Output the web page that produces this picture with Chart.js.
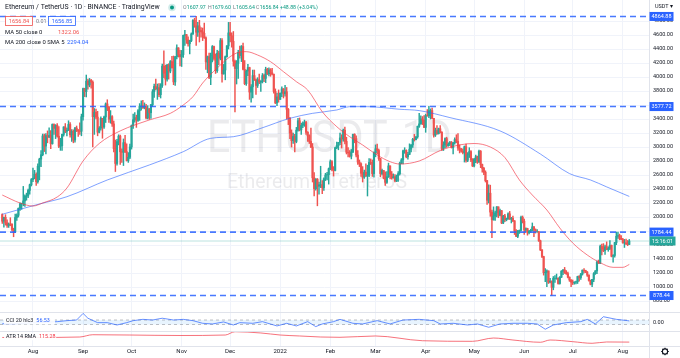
<!DOCTYPE html>
<html><head><meta charset="utf-8">
<script src="https://cdn.jsdelivr.net/npm/chart.js@4.4.1/dist/chart.umd.min.js"></script>
<style>html,body{margin:0;padding:0;background:#fff;overflow:hidden}canvas{display:block}</style>
</head><body>
<canvas id="c" width="680" height="358"></canvas>
<script>
// ---------- DATA (daily candles from 2021-07-13, open = previous close) ----------
const startDate = '2021-07-13';
const firstOpen = 2035;
const closes = [
1940,1995,1916,1880,1898,1895,1820,1786,1993,2025,2124,2189,2192,2230,2300,2300,2380,2460,2535,
2555,2610,2505,2725,2827,2890,3158,3013,3163,3142,3165,3048,3322,3267,3310,3154,3011,3017,3180,3286,3225,3240,3322,3174,3224,3100,3270,3244,3226,3225,3433,
3834,3790,3940,3887,3952,3926,3433,3497,3427,3211,3270,3410,3286,3429,3615,3571,3398,3433,3330,2977,2765,3077,3155,2932,2926,3062,2934,2807,2853,3001,
3307,3390,3418,3380,3518,3580,3587,3560,3575,3415,3545,3490,3605,3790,3865,3830,3847,3748,3878,4155,4055,3970,4170,4085,4220,4130,3930,4290,4415,4320,4290,
4320,4595,4605,4530,4475,4520,4615,4810,4730,4640,4730,4665,4645,4625,4560,4215,4290,3995,4310,4435,4265,4090,4340,4270,4520,4045,4100,4290,4445,4630,
4590,4510,4225,4120,4195,4350,4305,4435,4110,3905,4085,4135,3785,3860,4020,3960,3880,3960,3925,3940,4020,3980,4110,4045,4100,4060,4040,3795,3630,3715,3680,
3770,3830,3760,3790,3540,3410,3200,3090,3150,3080,3240,3375,3245,3310,3330,3350,3210,3160,3080,3000,2560,2405,2540,2440,2460,2460,2420,2545,2600,2605,2690,
2790,2680,2665,2990,3020,3065,3130,3115,3240,3080,2925,2915,2870,2930,3180,3120,2885,2785,2760,2625,2570,2640,2585,2595,2780,2775,2620,2920,
2975,2950,2835,2620,2665,2555,2495,2575,2730,2610,2560,2575,2515,2590,2620,2770,2815,2945,2950,2860,2895,2970,3030,3110,3105,3145,3295,3330,3400,3385,3280,
3450,3445,3520,3520,3410,3170,3235,3190,3260,3210,2980,3030,3120,3020,3040,3065,2990,3060,3105,3080,2985,2965,2940,2920,3005,2810,2890,2935,2815,2730,
2825,2860,2785,2940,2750,2695,2640,2520,2240,2340,2070,1960,2015,2060,2145,2025,2090,1915,2015,1960,1975,2045,1970,1980,1945,1800,1725,1795,1810,1995,1940,
1815,1835,1775,1800,1805,1860,1815,1790,1790,1660,1530,1435,1205,1210,1230,1070,1085,995,1125,1125,1125,1050,1140,1225,1245,1200,1190,1140,1100,1070,
1060,1070,1075,1150,1135,1185,1240,1235,1215,1170,1095,1040,1110,1190,1230,1355,1340,1580,1545,1520,1575,1535,1550,1595,1440,1450,1635,1725,1735,1695,1680,
1630,1630,1620,1607.97,1656.84];
const highs = [
2046,2000,2033,1960,1915,1990,1907,1840,2043,2044,2130,2201,2198,2437,2318,2341,2400,2471,2550,
2700,2666,2630,2760,2840,2950,3185,3185,3190,3230,3275,3235,3330,3330,3320,3335,3290,3125,3185,3290,3335,3270,3375,3350,3250,3245,3280,3300,3250,3345,3470,
3840,3840,4028,3970,3980,3965,3945,3550,3540,3510,3290,3430,3390,3440,3630,3675,3580,3520,3450,3370,3100,3110,3175,3170,2975,3115,3165,3045,2920,3040,
3315,3470,3490,3455,3535,3620,3660,3665,3630,3610,3590,3550,3610,3820,3900,3970,3900,3905,3905,4185,4375,4170,4180,4190,4235,4295,4300,4295,4460,4420,4380,
4380,4600,4665,4610,4575,4525,4630,4820,4838,4865,4780,4810,4705,4700,4770,4575,4300,4340,4340,4450,4440,4330,4380,4370,4550,4550,4180,4300,4450,4780,
4780,4630,4650,4240,4235,4380,4440,4450,4485,4235,4100,4180,4140,3890,4100,4100,3975,3990,4040,3950,4050,4040,4140,4125,4130,4120,4125,4040,3830,3770,3815,
3770,3860,3835,3880,3850,3550,3425,3245,3200,3180,3280,3410,3415,3340,3360,3385,3365,3220,3175,3270,3050,2635,2550,2550,2500,2725,2520,2560,2625,2640,2700,
2815,2805,2720,3000,3070,3065,3200,3175,3255,3285,3140,2990,2950,2965,3185,3190,3160,2950,2815,2775,2720,2670,2760,2740,2835,2830,2815,2930,
3030,3040,2970,2840,2685,2665,2645,2650,2770,2730,2650,2615,2605,2600,2650,2785,2835,2955,2990,2960,2925,3045,3035,3125,3180,3150,3300,3480,3445,3435,3450,
3470,3535,3580,3545,3555,3410,3270,3305,3270,3305,3220,3075,3130,3140,3060,3080,3080,3065,3130,3175,3190,3030,2980,2975,3015,3040,2920,2990,2950,2835,
2840,2885,2870,2955,2950,2755,2710,2660,2525,2460,2455,2100,2145,2085,2150,2145,2115,2095,2025,2040,1985,2060,2080,1995,2015,1950,1820,1810,1815,2015,2015,
1970,1845,1840,1810,1825,1915,1865,1830,1820,1795,1670,1535,1440,1265,1245,1230,1125,1085,1150,1165,1185,1130,1150,1235,1250,1280,1235,1215,1145,1105,
1100,1075,1085,1155,1165,1195,1245,1265,1240,1220,1175,1100,1110,1205,1235,1375,1385,1600,1615,1620,1600,1645,1575,1665,1600,1465,1640,1785,1785,1755,1735,
1695,1680,1685,1665,1679.60];
const lows = [
1908,1856,1884,1852,1851,1875,1800,1718,1776,1951,1999,2095,2110,2160,2152,2240,2275,2325,2443,
2505,2545,2450,2482,2530,2720,2875,2935,2900,3060,3133,2975,3040,3180,3120,3140,2990,2952,2950,3155,3205,3160,3235,3140,3080,3060,3070,3220,3150,3180,3160,
3385,3720,3715,3825,3860,3840,3000,3180,3400,3160,3200,3240,3125,3265,3350,3520,3350,3340,3295,2930,2650,2740,3030,2750,2780,2735,2920,2800,2780,2835,
2970,3265,3355,3280,3365,3380,3525,3550,3545,3400,3400,3395,3410,3580,3710,3815,3680,3720,3700,3850,3990,3885,3940,3970,4060,4130,3890,3880,4260,4285,4160,
4150,4280,4450,4480,4440,4330,4505,4610,4710,4450,4580,4500,4570,4520,4550,4110,4060,3975,3890,4215,4240,4050,4065,4175,4245,3925,4040,3960,4285,4400,
4500,4425,4155,3500,3900,3980,4270,4220,4100,3890,3880,4020,3680,3640,3700,3950,3750,3850,3905,3795,3915,3935,3920,4035,4015,4010,4030,3770,3620,3590,3640,
3680,3720,3700,3725,3400,3320,3120,3000,3050,2930,3060,3225,3230,3180,3275,3295,3180,3080,3050,2990,2500,2300,2385,2160,2325,2420,2335,2380,2520,2530,2470,
2675,2660,2585,2660,2975,2960,3035,2985,3085,3045,2900,2860,2855,2830,2920,3060,2860,2750,2720,2580,2500,2550,2580,2300,2575,2750,2580,2570,
2860,2900,2810,2575,2600,2545,2450,2480,2565,2545,2540,2555,2500,2505,2510,2600,2760,2760,2910,2845,2825,2890,2930,2995,3085,3100,3125,3280,3325,3320,3275,
3210,3440,3420,3400,3405,3140,3150,3180,3185,3200,2950,2950,2990,2995,3010,3020,2985,2900,3040,3060,2950,2915,2925,2900,2785,2785,2790,2850,2790,2720,
2715,2775,2765,2780,2705,2640,2605,2500,2180,2200,2010,1705,1955,1950,2000,1990,2015,1905,1905,1935,1945,1965,1965,1915,1935,1750,1720,1705,1765,1800,1915,
1750,1790,1740,1760,1780,1800,1720,1770,1780,1650,1520,1420,1170,1075,1005,1050,1060,880,960,1065,1110,1040,1040,1135,1175,1195,1180,1130,1080,1005,
1035,1040,1045,1050,1085,1110,1170,1200,1205,1150,1085,1030,1005,1075,1180,1190,1335,1335,1460,1505,1465,1535,1510,1535,1430,1356,1425,1605,1695,1675,1675,
1625,1565,1605,1590,1605.64];

// moving averages / indicators (day index from startDate)
const ma50Days   = [0,11,19,25,34,40,50,60,73,91,104,112,118,124,133,141,147,151,158,166,174,182,189,198,207,215,223,232,240,246,258,271,283,292,302,311,320,328,337,345,353,362,370,378,384,388];
const ma50Values = [2314,2200,2157,2200,2286,2414,2800,3050,3230,3386,3481,3600,3719,3914,4128,4290,4357,4362,4314,4219,4076,3933,3814,3504,3290,3147,3029,2886,2790,2757,2800,2950,3030,3050,3000,2850,2529,2314,2100,1843,1629,1457,1347,1281,1281,1322];
const ma200Days   = [0,11,23,40,65,91,112,129,143,160,178,192,207,215,226,246,258,277,308,333,351,364,374,388];
const ma200Values = [2039,2110,2186,2290,2529,2743,2933,3124,3147,3267,3410,3481,3529,3576,3576,3539,3520,3420,3230,2900,2620,2529,2430,2294];
const cciDays   = [0,7,34,40,46,50,53,59,65,71,77,81,87,93,99,106,112,118,124,130,137,143,147,155,161,170,176,182,189,194,198,205,209,217,223,232,240,248,258,267,271,279,288,294,301,308,316,325,331,336,341,349,358,362,367,372,380,387,388];
const cciValues = [-70,-70,25,70,100,400,180,-20,-20,-127,-20,70,130,100,180,100,130,70,-50,-80,10,-127,-20,-50,25,-170,-50,-170,25,-200,-80,25,130,-50,-80,70,-80,100,130,70,-80,-50,-127,-80,-230,-80,-50,-50,-80,-320,-127,-20,25,130,-80,250,130,70,57];
const atrDays   = [0,19,48,56,79,110,138,144,160,172,184,197,209,231,260,291,304,316,333,339,353,365,374,388];
const atrValues = [192,192,200,238,233,225,233,288,267,233,217,200,195,217,138,128,183,150,112,150,122,95,117,115];

// legend / label values shown in the picture
const prevClose = 1607.96;
const bidAsk = [1656.84, 1656.85];
const spread = '0.01';
const ma50Last = 1322.06, ma200Last = 2294.04, cciLast = 56.53, atrLast = 115.28;
const countdown = '15:16:01';

const levels = [4864.88, 3577.72, 1784.44, 878.44];
const lastPrice = 1656.84;
const cciBands = [100, -100];
const monthDays   = [19,50,80,111,141,172,203,231,262,292,323,353,384];
const monthLabels = ['Aug','Sep','Oct','Nov','Dec','2022','Feb','Mar','Apr','May','Jun','Jul','Aug'];
const priceTicks  = [800,1000,1200,1400,1600,1800,2000,2200,2400,2600,2800,3000,3200,3400,3600,3800,4000,4200,4400,4600,4800];

// ---------- build ----------
const X_MIN = -1.4, X_MAX = 400.2;
const UP = '#26a69a', DOWN = '#ef5350';
const opens = closes.map((c, i) => i === 0 ? firstOpen : closes[i - 1]);
const candleColors = closes.map((c, i) => c >= opens[i] ? UP : DOWN);
const wickData = closes.map((c, i) => ({x: i, y: [Math.min(lows[i], opens[i], c), Math.max(highs[i], opens[i], c)]}));
const bodyData = closes.map((c, i) => ({x: i, y: [opens[i], c]}));
const pts = (days, vals) => days.map((d, i) => ({x: d, y: vals[i]}));
const hline = v => [{x: X_MIN, y: v}, {x: X_MAX, y: v}];

Chart.defaults.font.family = 'Roboto, "Noto Sans", sans-serif';

const datasets = [];
levels.forEach(l => datasets.push({type: 'line', data: hline(l), borderColor: 'rgba(41,98,255,0.85)', borderWidth: 1.6, borderDash: [6, 4], pointRadius: 0, yAxisID: 'y', order: 0}));
datasets.push({type: 'line', data: pts(ma50Days, ma50Values), borderColor: 'rgba(242,54,69,0.65)', borderWidth: 1, pointRadius: 0, cubicInterpolationMode: 'monotone', yAxisID: 'y', order: 1});
datasets.push({type: 'line', data: pts(ma200Days, ma200Values), borderColor: 'rgba(41,98,255,0.6)', borderWidth: 1, pointRadius: 0, cubicInterpolationMode: 'monotone', yAxisID: 'y', order: 1});
datasets.push({type: 'bar', data: bodyData, backgroundColor: candleColors, barThickness: 1.5, grouped: false, borderWidth: 0, yAxisID: 'y', order: 2});
datasets.push({type: 'bar', data: wickData, backgroundColor: candleColors, barThickness: 0.8, grouped: false, borderWidth: 0, yAxisID: 'y', order: 3});
datasets.push({type: 'line', data: hline(lastPrice), borderColor: 'rgba(38,166,154,0.3)', borderWidth: 1, pointRadius: 0, yAxisID: 'y', order: 5});
const bandIdx = datasets.length;
datasets.push({type: 'line', data: hline(cciBands[0]), borderColor: 'rgba(120,123,134,0.6)', borderWidth: 0.8, borderDash: [3, 3], pointRadius: 0, yAxisID: 'yCci', order: 6});
datasets.push({type: 'line', data: hline(cciBands[1]), borderColor: 'rgba(120,123,134,0.6)', borderWidth: 0.8, borderDash: [3, 3], pointRadius: 0, yAxisID: 'yCci', fill: bandIdx, backgroundColor: 'rgba(33,150,243,0.10)', order: 6});
datasets.push({type: 'line', data: pts(cciDays, cciValues), borderColor: 'rgba(41,98,255,0.7)', borderWidth: 1, pointRadius: 0, yAxisID: 'yCci', order: 1});
datasets.push({type: 'line', data: pts(atrDays, atrValues), borderColor: 'rgba(242,54,69,0.7)', borderWidth: 1, pointRadius: 0, cubicInterpolationMode: 'monotone', yAxisID: 'yAtr', order: 1});

function txt(ctx, s, x, y, color, size, align, weight) {
  ctx.font = (weight || 'normal') + ' ' + size + 'px Roboto, "Noto Sans", sans-serif';
  ctx.fillStyle = color; ctx.textAlign = align || 'left'; ctx.textBaseline = 'middle';
  ctx.fillText(s, x, y);
  return ctx.measureText(s).width;
}

const overlay = {
  id: 'overlay',
  beforeDraw(chart) {
    const ctx = chart.ctx; ctx.save(); ctx.fillStyle = '#fff'; ctx.fillRect(0, 0, chart.width, chart.height); ctx.restore();
  },
  beforeDatasetsDraw(chart) {
    const ctx = chart.ctx; ctx.save();
    ctx.fillStyle = 'rgba(120,123,134,0.15)';
    ctx.textAlign = 'left'; ctx.textBaseline = 'alphabetic';
    ctx.font = '44px Roboto, sans-serif';
    let s = 'ETHUSDT, 1D', w = ctx.measureText(s).width;
    ctx.save(); ctx.translate(207, 152); ctx.scale(245 / w, 1); ctx.fillText(s, 0, 0); ctx.restore();
    ctx.font = '21px Roboto, sans-serif';
    s = 'Ethereum / TetherUS'; w = ctx.measureText(s).width;
    ctx.save(); ctx.translate(227, 188); ctx.scale(180 / w, 1); ctx.fillText(s, 0, 0); ctx.restore();
    ctx.restore();
  },
  afterDraw(chart) {
    const ctx = chart.ctx, ys = chart.scales.y, yc = chart.scales.yCci, ya = chart.scales.yAtr, xa = chart.scales.x;
    const R = chart.chartArea.right;
    const n = closes.length - 1;
    ctx.save();
    // separators
    ctx.strokeStyle = '#e0e3eb'; ctx.lineWidth = 1;
    ctx.beginPath();
    ctx.moveTo(0, Math.round(yc.top) + 0.5); ctx.lineTo(680, Math.round(yc.top) + 0.5);
    ctx.moveTo(0, Math.round(ya.top) + 0.5); ctx.lineTo(680, Math.round(ya.top) + 0.5);
    ctx.moveTo(0, Math.round(xa.top) + 0.5); ctx.lineTo(680, Math.round(xa.top) + 0.5);
    ctx.moveTo(Math.round(R) + 0.5, 0); ctx.lineTo(Math.round(R) + 0.5, 358);
    ctx.stroke();
    // header row 1
    txt(ctx, 'Ethereum / TetherUS · 1D · BINANCE · TradingView', 5, 7.5, '#131722', 6.9);
    ctx.fillStyle = 'rgba(38,166,154,0.22)'; ctx.beginPath(); ctx.arc(172, 7.5, 3.8, 0, Math.PI * 2); ctx.fill();
    ctx.fillStyle = '#089981'; ctx.beginPath(); ctx.arc(172, 7.5, 2, 0, Math.PI * 2); ctx.fill();
    const ohlc = [['O', 183, opens[n]], ['H', 208, highs[n]], ['L', 233, lows[n]], ['C', 256, closes[n]]];
    ohlc.forEach(p => {
      const w = txt(ctx, p[0], p[1], 7.5, '#787b86', 5.2);
      txt(ctx, p[2].toFixed(2), p[1] + w + 0.3, 7.5, '#089981', 5.2);
    });
    const chg = closes[n] - prevClose;
    txt(ctx, '+' + chg.toFixed(2) + ' (+' + (chg / prevClose * 100).toFixed(2) + '%)', 280, 7.5, '#089981', 5.2);
    // row 2 boxes
    ctx.lineWidth = 0.8;
    ctx.fillStyle = '#fff'; ctx.fillRect(5.5, 16.5, 27, 9); ctx.strokeStyle = '#ef5350'; ctx.strokeRect(5.5, 16.5, 27, 9);
    txt(ctx, bidAsk[0].toFixed(2), 19, 21.2, '#ef5350', 5.6, 'center');
    txt(ctx, spread, 36, 21.2, '#787b86', 5.4);
    ctx.fillStyle = '#fff'; ctx.fillRect(48.5, 16.5, 27, 9); ctx.strokeStyle = '#2962ff'; ctx.strokeRect(48.5, 16.5, 27, 9);
    txt(ctx, bidAsk[1].toFixed(2), 62, 21.2, '#2962ff', 5.6, 'center');
    // MA legends
    txt(ctx, 'MA 50 close 0', 5, 32.5, '#131722', 5.9);
    txt(ctx, ma50Last.toFixed(2), 58, 32.5, '#ef5350', 5.9);
    txt(ctx, 'MA 200 close 0 SMA 5', 5, 43, '#131722', 5.9);
    txt(ctx, ma200Last.toFixed(2), 67, 43, '#2962ff', 5.9);
    // pane labels
    const cy = yc.getPixelForValue(60), ay = ya.getPixelForValue(205);
    ctx.fillStyle = 'rgba(255,255,255,0.9)'; ctx.fillRect(4, cy - 3.5, 51, 7); ctx.fillRect(4, ay - 3.5, 52, 7);
    let w = txt(ctx, 'CCI 20 hlc3', 6, cy, '#131722', 5.4);
    txt(ctx, cciLast.toFixed(2), 6 + w + 3, cy, '#2962ff', 5.4);
    w = txt(ctx, 'ATR 14 RMA', 6, ay, '#131722', 5.4);
    txt(ctx, atrLast.toFixed(2), 6 + w + 3, ay, '#f23645', 5.4);
    // axis boxes
    levels.forEach(l => {
      const y = ys.getPixelForValue(l);
      ctx.fillStyle = '#2962ff'; ctx.fillRect(R + 0.5, y - 4.5, 24, 9);
      txt(ctx, l.toFixed(2), R + 12.5, y + 0.3, '#fff', 5.5, 'center');
    });
    const gy = ys.getPixelForValue(lastPrice);
    ctx.fillStyle = '#26a69a'; ctx.fillRect(R + 0.5, gy - 4.5, 26, 9);
    txt(ctx, countdown, R + 13.5, gy + 0.3, '#fff', 5.5, 'center');
    // currency + gear
    txt(ctx, 'USDT ▾', 655, 7, '#131722', 5.5);
    ctx.strokeStyle = '#131722'; ctx.lineWidth = 1.1;
    ctx.beginPath(); ctx.arc(665, 351.5, 2.6, 0, Math.PI * 2); ctx.stroke();
    for (let k = 0; k < 8; k++) {
      const a = k * Math.PI / 4;
      ctx.beginPath(); ctx.moveTo(665 + Math.cos(a) * 2.6, 351.5 + Math.sin(a) * 2.6); ctx.lineTo(665 + Math.cos(a) * 3.8, 351.5 + Math.sin(a) * 3.8); ctx.stroke();
    }
    ctx.restore();
  }
};

const noPadY = w => s => { s.width = w; s.paddingTop = 0; s.paddingBottom = 0; };
const axisFont = {size: 5.5};
new Chart(document.getElementById('c'), {
  type: 'bar',
  data: {datasets},
  options: {
    responsive: false, animation: false, devicePixelRatio: 1, events: [],
    layout: {padding: 0},
    plugins: {legend: {display: false}, tooltip: {enabled: false}},
    scales: {
      x: {
        type: 'linear', min: X_MIN, max: X_MAX, position: 'bottom', offset: false,
        afterBuildTicks: s => { s.ticks = monthDays.map(v => ({value: v})); },
        afterFit: s => { s.height = 12; s.paddingLeft = 0; s.paddingRight = 0; },
        ticks: {autoSkip: false, maxRotation: 0, padding: 2, font: {size: 6}, color: '#131722', callback: (v, i) => monthLabels[i]},
        grid: {color: '#f0f3fa', drawTicks: false, offset: false},
        border: {display: true, color: '#e0e3eb'}
      },
      y: {
        type: 'linear', position: 'right', stack: 'panes', stackWeight: 312, weight: 1, min: 643, max: 5100,
        afterBuildTicks: s => { s.ticks = priceTicks.map(v => ({value: v})); },
        afterFit: noPadY(31),
        ticks: {autoSkip: false, padding: 4, font: axisFont, color: '#131722', callback: v => v.toFixed(2)},
        grid: {color: '#f0f3fa', drawTicks: false},
        border: {display: true, color: '#e0e3eb'}
      },
      yCci: {
        type: 'linear', position: 'right', stack: 'panes', stackWeight: 19, weight: 2, min: -400, max: 464,
        afterBuildTicks: s => { s.ticks = [{value: 0}]; },
        afterFit: noPadY(31),
        ticks: {autoSkip: false, padding: 4, font: axisFont, color: '#131722', callback: v => v.toFixed(2)},
        grid: {display: false, drawTicks: false},
        border: {display: true, color: '#e0e3eb'}
      },
      yAtr: {
        type: 'linear', position: 'right', stack: 'panes', stackWeight: 15, weight: 3, min: 50, max: 300,
        afterFit: noPadY(31),
        ticks: {display: false},
        grid: {display: false, drawTicks: false},
        border: {display: true, color: '#e0e3eb'}
      }
    }
  },
  plugins: [overlay]
});
</script>
</body></html>
